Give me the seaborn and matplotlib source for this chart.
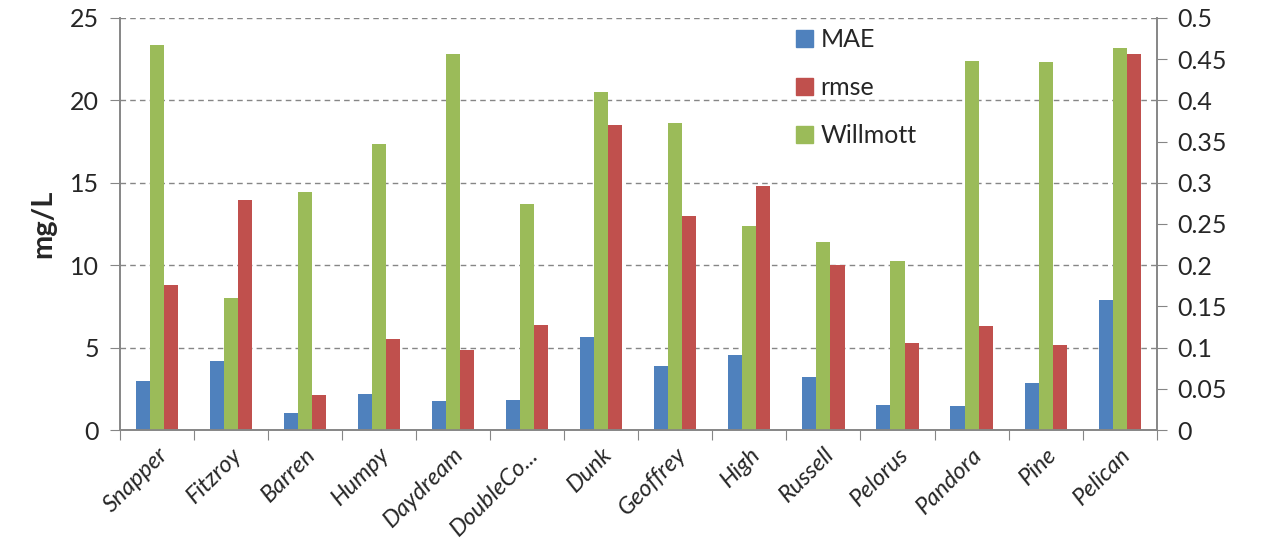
import numpy as np
import pandas as pd
import matplotlib
matplotlib.use('Agg')
import matplotlib.pyplot as plt
import seaborn as sns

sites = ['Snapper', 'Fitzroy', 'Barren', 'Humpy', 'Daydream', 'DoubleCo...', 'Dunk',
         'Geoffrey', 'High', 'Russell', 'Pelorus', 'Pandora', 'Pine', 'Pelican']
mae = [3.0, 4.17, 1.03, 2.19, 1.74, 1.82, 5.65, 3.87, 4.58, 3.24, 1.52, 1.44, 2.86, 7.88]
rmse = [8.81, 13.98, 2.13, 5.51, 4.88, 6.38, 18.48, 12.97, 14.79, 10.03, 5.29, 6.30, 5.13, 22.81]
willmott = [0.467, 0.160, 0.289, 0.347, 0.456, 0.274, 0.410, 0.372, 0.248, 0.228, 0.205, 0.448, 0.447, 0.464]

colors = {'MAE': '#4F81BD', 'Willmott': '#9BBB59', 'rmse': '#C0504D'}
hue_order = ['MAE', 'Willmott', 'rmse']
n = len(sites)
zeros = [0.0] * n

# primary axis: MAE + rmse (Willmott slot kept empty), secondary: Willmott only
left = pd.DataFrame({'site': sites * 3, 'value': mae + zeros + rmse,
                     'metric': ['MAE'] * n + ['Willmott'] * n + ['rmse'] * n})
right = pd.DataFrame({'site': sites * 3, 'value': zeros + willmott + zeros,
                      'metric': ['MAE'] * n + ['Willmott'] * n + ['rmse'] * n})

sns.set_style('white')
plt.rcParams['font.family'] = ['Lato', 'DejaVu Sans']

fig, ax = plt.subplots(figsize=(12.74, 5.45), dpi=100)
fig.subplots_adjust(left=0.094, right=0.908, top=0.967, bottom=0.211)
ax2 = ax.twinx()

sns.barplot(data=left, x='site', y='value', hue='metric', hue_order=hue_order, order=sites,
            palette=colors, saturation=1, width=0.57, linewidth=0, ax=ax, legend=False)
sns.barplot(data=right, x='site', y='value', hue='metric', hue_order=hue_order, order=sites,
            palette=colors, saturation=1, width=0.57, linewidth=0, ax=ax2, legend=False)

ax.set_ylim(0, 25)
ax.set_yticks([0, 5, 10, 15, 20, 25])
ax2.set_ylim(0, 0.5)
ax2.set_yticks(np.arange(0, 0.51, 0.05))
ax2.set_yticklabels(['0', '0.05', '0.1', '0.15', '0.2', '0.25', '0.3', '0.35', '0.4', '0.45', '0.5'])
ax.set_xlim(-0.5, n - 0.5)

ax.set_axisbelow(True)
for y in [5, 10, 15, 20, 25]:
    ax.axhline(y, color='#868686', lw=1, ls=(0, (4, 3)), zorder=0)

ax.set_xticks(np.arange(n + 1) - 0.5)
ax.set_xticklabels([])
ax.set_xticks(np.arange(n), minor=True)
ax.set_xticklabels(sites, minor=True, rotation=45, ha='right', rotation_mode='anchor',
                   fontsize=17, fontstyle='italic')
ax.tick_params(axis='x', which='major', length=7, color='#868686', direction='out', bottom=True)
ax.tick_params(axis='x', which='minor', length=0, pad=10)
ax.tick_params(axis='y', length=7, color='#868686', labelsize=18, left=True, pad=8)
ax2.tick_params(axis='y', length=7, color='#868686', labelsize=18, right=True, pad=8)

ax.set_xlabel('')
ax.set_ylabel('mg/L', fontsize=21, fontweight='bold', labelpad=10)
ax2.set_ylabel('')

for a in (ax, ax2):
    a.spines['top'].set_visible(False)
    for s in ('left', 'right', 'bottom'):
        a.spines[s].set_color('#868686')
        a.spines[s].set_linewidth(1.2)

handles = [plt.Rectangle((0, 0), 1, 1, color=colors[m]) for m in ['MAE', 'rmse', 'Willmott']]
ax2.legend(handles, ['MAE', 'rmse', 'Willmott'], loc='upper left', bbox_to_anchor=(0.63, 1.03),
           frameon=False, fontsize=18, labelspacing=1.0, handlelength=0.7, handleheight=0.7,
           handletextpad=0.3)

fig.savefig('out.png', dpi=100, facecolor='white')
